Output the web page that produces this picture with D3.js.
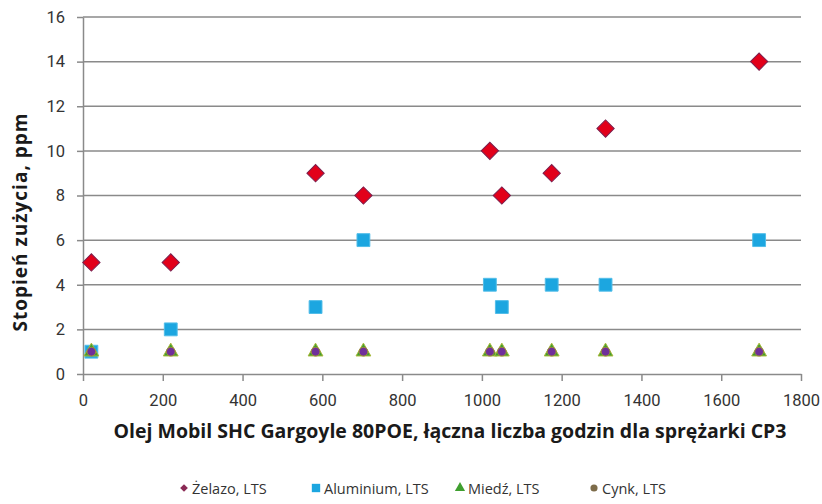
<!DOCTYPE html>
<html lang="pl">
<head>
  <meta charset="UTF-8" />
  <title>Stopień zużycia</title>
  <script src="https://d3js.org/d3.v7.min.js"></script>
  <style>
    body { margin: 0; background: #fff; }
  </style>
</head>
<body>
  <svg id="chart" width="822" height="504"></svg>

  <script>
    // godziny pracy sprężarki CP3
    const hours = [21, 220, 583, 703, 1020, 1050, 1175, 1310, 1695];

    const zelazo    = [5, 5, 9, 8, 10, 8, 9, 11, 14];
    const aluminium = [1, 2, 3, 6, 4, 3, 4, 4, 6];
    const miedz     = [1, 1, 1, 1, 1, 1, 1, 1, 1];
    const cynk      = [1, 1, 1, 1, 1, 1, 1, 1, 1];

    const xTicks = [0, 200, 400, 600, 800, 1000, 1200, 1400, 1600, 1800];
    const yTicks = [0, 2, 4, 6, 8, 10, 12, 14, 16];

    const seriesNames = ["Żelazo, LTS", "Aluminium, LTS", "Miedź, LTS", "Cynk, LTS"];

    const svg = d3.select("#chart");
    const margin = { left: 83, right: 21, top: 17, bottom: 130 };
    const width = 822 - margin.left - margin.right;
    const height = 504 - margin.top - margin.bottom;

    const g = svg.append("g").attr("transform", `translate(${margin.left},${margin.top})`);

    const x = d3.scaleLinear().domain([0, 1800]).range([0, width]);
    const y = d3.scaleLinear().domain([0, 16]).range([height, 0]);

    const axisColor = "#8a8a8a";
    const tickFont = "Roboto, 'DejaVu Sans', sans-serif";

    // siatka pozioma
    g.append("g")
      .selectAll("line")
      .data(yTicks.filter(d => d > 0))
      .join("line")
        .attr("x1", 0)
        .attr("x2", width)
        .attr("y1", d => y(d))
        .attr("y2", d => y(d))
        .attr("stroke", axisColor)
        .attr("stroke-width", 1.5);

    const xAxis = g.append("g")
      .attr("transform", `translate(0,${height})`)
      .call(d3.axisBottom(x).tickValues(xTicks).tickFormat(d3.format("d"))
        .tickSize(7).tickSizeOuter(0).tickPadding(13));

    const yAxis = g.append("g")
      .call(d3.axisLeft(y).tickValues(yTicks).tickFormat(d3.format("d"))
        .tickSize(6).tickSizeOuter(0).tickPadding(12));

    [xAxis, yAxis].forEach(ax => {
      ax.select(".domain").attr("stroke", axisColor).attr("stroke-width", 1.5);
      ax.selectAll(".tick line").attr("stroke", axisColor).attr("stroke-width", 1.5);
      ax.selectAll(".tick text")
        .attr("fill", "#333")
        .style("font-family", tickFont)
        .style("font-size", "16.5px");
    });

    // symbole serii (romb = kwadrat obrócony o 45°)
    const series = [
      { values: zelazo, type: d3.symbolSquare, rot: 45, size: 150, fill: "#e2001a", stroke: "#7a1f4e" },
      { values: aluminium, type: d3.symbolSquare, rot: 0, size: 165, fill: "#1ca6e0", stroke: "#52bde8" },
      { values: miedz, type: d3.symbolTriangle, rot: 0, size: 95, fill: "#3f9f2f", stroke: "#a8b83a" },
      { values: cynk, type: d3.symbolCircle, rot: 0, size: 60, fill: "#6f2f9a", stroke: "#a08a3c" }
    ];

    series.forEach(s => {
      g.append("g")
        .selectAll("path")
        .data(s.values.map((v, i) => ({ h: hours[i], v: v })))
        .join("path")
          .attr("transform", d => `translate(${x(d.h)},${y(d.v)}) rotate(${s.rot})`)
          .attr("d", d3.symbol().type(s.type).size(s.size))
          .attr("fill", s.fill)
          .attr("stroke", s.stroke)
          .attr("stroke-width", 1);
    });

    // tytuły osi
    const titleFont = "'Open Sans', 'DejaVu Sans', sans-serif";

    svg.append("text")
      .attr("x", 450)
      .attr("y", 438)
      .attr("text-anchor", "middle")
      .style("font-family", titleFont)
      .style("font-weight", "bold")
      .style("font-size", "19.5px")
      .attr("fill", "#1a1a1a")
      .text("Olej Mobil SHC Gargoyle 80POE, łączna liczba godzin dla sprężarki CP3");

    svg.append("text")
      .attr("transform", "translate(27,222) rotate(-90)")
      .attr("text-anchor", "middle")
      .style("font-family", titleFont)
      .style("font-weight", "bold")
      .style("font-size", "19px")
      .style("letter-spacing", "1px")
      .attr("fill", "#1a1a1a")
      .text("Stopień zużycia, ppm");

    // legenda
    const legendX = [184, 316, 460, 594];
    const legendMarks = [
      { type: d3.symbolSquare, rot: 45, size: 30, fill: "#8a2a55" },
      { type: d3.symbolSquare, rot: 0, size: 70, fill: "#1ca6e0" },
      { type: d3.symbolTriangle, rot: 0, size: 45, fill: "#3f9f2f" },
      { type: d3.symbolCircle, rot: 0, size: 40, fill: "#7d6c4a" }
    ];

    const legend = svg.append("g");
    legendMarks.forEach((m, i) => {
      legend.append("path")
        .attr("transform", `translate(${legendX[i]},488) rotate(${m.rot})`)
        .attr("d", d3.symbol().type(m.type).size(m.size))
        .attr("fill", m.fill);
      legend.append("text")
        .attr("x", legendX[i] + 8)
        .attr("y", 494)
        .style("font-family", "'Open Sans', sans-serif")
        .style("font-size", "14.5px")
        .attr("fill", "#333")
        .text(seriesNames[i]);
    });
  </script>
</body>
</html>
